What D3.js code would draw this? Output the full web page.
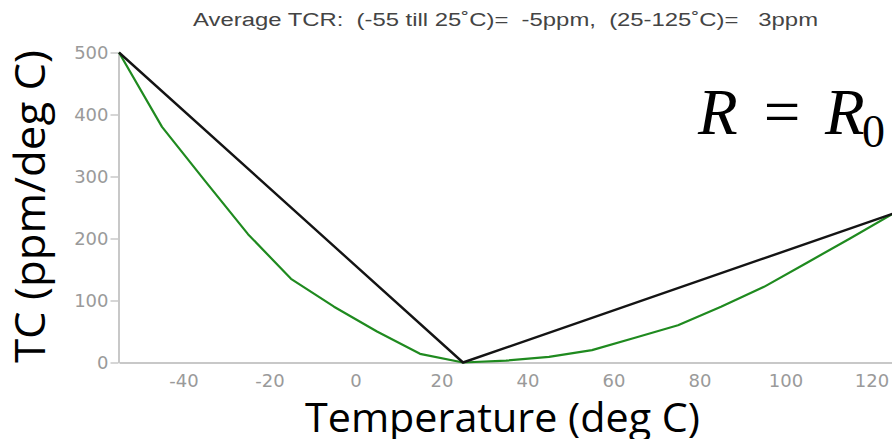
<!DOCTYPE html>
<html><head><meta charset="utf-8">
<script src="https://cdn.jsdelivr.net/npm/d3@7"></script>
<style>body{margin:0;background:#fff}svg{display:block}</style>
</head><body><svg id="c" width="892" height="439"></svg>
<script>
const temps = [-55,-45,-35,-25,-15,-5,5,15,25,35,45,55,65,75,85,95,105,115,125];
const measured = [500,380,293,207,135,90,50,14,0,3,9,20,40,60,90,122,161,200,240];
const avgTemps = [-55,25,125];
const avgTC = [500,0,240];
const xTicks = [-40,-20,0,20,40,60,80,100,120];
const yTicks = [0,100,200,300,400,500];
const titleText = "Average TCR:  (-55 till 25\u02DAC)=  -5ppm,  (25-125\u02DAC)=   3ppm";

const svg = d3.select("#c");
const x = d3.scaleLinear().domain([-55,125]).range([119,893]);
const y = d3.scaleLinear().domain([0,500]).range([362.5,52.5]);

// axes
const gx = svg.append("g").attr("transform","translate(0,362.5)")
  .call(d3.axisBottom(x).tickValues(xTicks).tickSize(0).tickSizeOuter(0).tickPadding(12).tickFormat(d3.format("d")));
const gy = svg.append("g").attr("transform","translate(118.5,0)")
  .call(d3.axisLeft(y).tickValues(yTicks).tickSize(8).tickSizeOuter(0).tickPadding(2));
[gx,gy].forEach(g=>{
  g.select(".domain").attr("stroke","#c8c8c8").attr("stroke-width",2);
  g.selectAll(".tick line").attr("stroke","#c8c8c8").attr("stroke-width",1.5);
  g.selectAll(".tick text").attr("fill","#9a9a9a").attr("font-family","DejaVu Sans").attr("font-size",18);
});
gx.selectAll(".tick text").text(d=>d<0?"-"+Math.abs(d):d);

// lines
const line = d3.line().x(d=>x(d[0])).y(d=>y(d[1]));
svg.append("path").datum(temps.map((t,i)=>[t,measured[i]]))
  .attr("d",line).attr("fill","none").attr("stroke","#1f8a1f").attr("stroke-width",2.2).attr("stroke-linejoin","round");
svg.append("path").datum(avgTemps.map((t,i)=>[t,avgTC[i]]))
  .attr("d",line).attr("fill","none").attr("stroke","#141414").attr("stroke-width",2.4).attr("stroke-linejoin","round");

// title
svg.append("text").attr("x",193).attr("y",25.7)
  .attr("font-family","Liberation Sans").attr("font-size",18).attr("fill","#444")
  .attr("textLength",625).attr("lengthAdjust","spacingAndGlyphs")
  .style("white-space","pre").text(titleText);

// axis titles
svg.append("text").attr("transform","translate(45,206.5) rotate(-90)")
  .attr("text-anchor","middle").attr("font-family","Open Sans").attr("font-size",42).attr("fill","#000")
  .attr("textLength",313).attr("lengthAdjust","spacingAndGlyphs")
  .text("TC (ppm/deg C)");
svg.append("text").attr("x",502.5).attr("y",432).attr("text-anchor","middle")
  .attr("font-family","Open Sans").attr("font-size",41).attr("fill","#000")
  .attr("textLength",395).attr("lengthAdjust","spacingAndGlyphs")
  .text("Temperature (deg C)");

// equation overlay
const eq = svg.append("g").attr("font-family","Liberation Serif").attr("fill","#000");
eq.append("text").attr("x",698).attr("y",134).attr("font-size",65).attr("font-style","italic").text("R");
eq.append("text").attr("x",782).attr("y",134).attr("text-anchor","middle").attr("font-size",65).text("=");
eq.append("text").attr("x",825).attr("y",134).attr("font-size",65).attr("font-style","italic").text("R");
eq.append("text").attr("x",862).attr("y",147).attr("font-size",46).text("0");
</script></body></html>
